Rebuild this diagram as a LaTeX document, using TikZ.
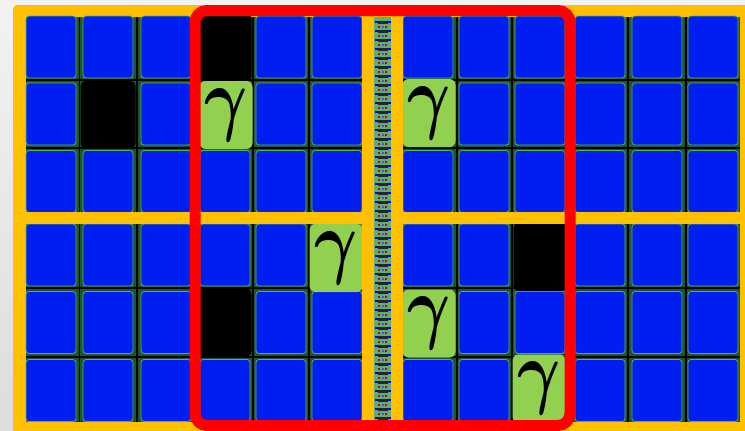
\documentclass[tikz,border=0pt]{standalone}
\usepackage{graphicx}
\usepackage{amsmath}
\usepackage{bm}
\usetikzlibrary{positioning}
\definecolor{framegold}{RGB}{255,192,0}
\definecolor{boxred}{RGB}{255,0,0}
\definecolor{cellblue}{RGB}{0,30,240}
\definecolor{gammagreen}{RGB}{146,208,80}
\definecolor{gapgreen}{RGB}{30,85,45}
\definecolor{edgegreen}{RGB}{75,185,95}
\definecolor{stripgreen}{RGB}{95,175,115}
\newcommand{\gammamark}{\scalebox{6.6}[8.2]{$\bm{\gamma}$}}

\begin{document}
\begin{tikzpicture}[
                x=1pt, y=-1pt,
                cell/.style={draw=edgegreen, line width=0.8pt, fill=cellblue, rounded corners=3pt,
                             minimum width=50pt, minimum height=62pt, inner sep=0pt},
                blocked/.style={fill=black, rounded corners=5pt, minimum width=53pt, minimum height=68pt, inner sep=0pt},
                gammacell/.style={fill=gammagreen, rounded corners=6pt, minimum width=53pt, minimum height=68pt,
                                  inner sep=0pt}
            ]
                \useasboundingbox (0,0) rectangle (745,431);
                \clip (0,0) rectangle (745,431);
                \shade[top color=gray!10, bottom color=gray!27] (0,0) rectangle (745,431);

                % outer frame and grid floor
                \fill[framegold, rounded corners=4pt] (13,5) rectangle (760,440);
                \fill[gapgreen] (26,17) rectangle (740,422);
                \foreach \gx in {79.5,137,253,309,457,512,628,686}
                    \draw[black, line width=1.6pt] (\gx,17) -- (\gx,422);
                \foreach \gy in {80,148,288,357}
                    \draw[black, line width=2.2pt] (26,\gy) -- (740,\gy);

                % blue cells
                \foreach \cx [count=\c] in {51,108,166,225,281,337,428,484,540,600,657,713}
                    \foreach \cy [count=\r] in {47,114,181.5,255,322.5,390.5}
                        \node[cell] (r\r c\c) at (\cx,\cy) {};

                % blocked cells
                \node[blocked] (b1) at (r1c4) {};
                \node[blocked, minimum width=55pt] (b2) at ([yshift=-1pt]r2c2) {};
                \node[blocked] (b3) at (r5c4) {};
                \node[blocked] (b4) at ([yshift=-2pt]r4c9) {};

                % gamma cells
                \node[gammacell] (g1) at ([xshift=1pt,yshift=-1pt]r2c4) {\gammamark};
                \node[gammacell] (g2) at ([xshift=1pt,yshift=1pt]r2c7) {\gammamark};
                \node[gammacell] (g3) at ([xshift=-1pt,yshift=-3pt]r4c6) {\gammamark};
                \node[gammacell] (g4) at ([xshift=1pt,yshift=-1pt]r5c7) {\gammamark};
                \node[gammacell] (g5) at ([xshift=-1pt,yshift=2pt]r6c9) {\gammamark};

                % yellow dividers
                \fill[framegold] (26,212) rectangle (740,224);
                \fill[framegold] (362,17) rectangle (374,422);
                \fill[framegold] (391,17) rectangle (403,422);

                % patterned strip
                \fill[stripgreen] (374,17) rectangle (391,422);
                \foreach \py in {22,31,...,418} {
                    \fill[black!85] (377.5,\py-1.5) rectangle (387.5,\py+1.5);
                    \fill[blue] (374.5,\py-0.6) rectangle (377.5,\py+0.6);
                    \fill[blue] (387.5,\py-0.6) rectangle (390.5,\py+0.6);
                    \fill[red!80!black] (378,\py+3.5) rectangle (380,\py+5.5);
                    \fill[red!80!black] (385,\py+3.5) rectangle (387,\py+5.5);
                    \fill[blue!70] (381.5,\py+3.5) rectangle (383.5,\py+5.5);
                }

                % red frame
                \draw[boxred, line width=11pt, rounded corners=12pt] (195,10.5) rectangle (570,425.5);
            \end{tikzpicture}
\end{document}
